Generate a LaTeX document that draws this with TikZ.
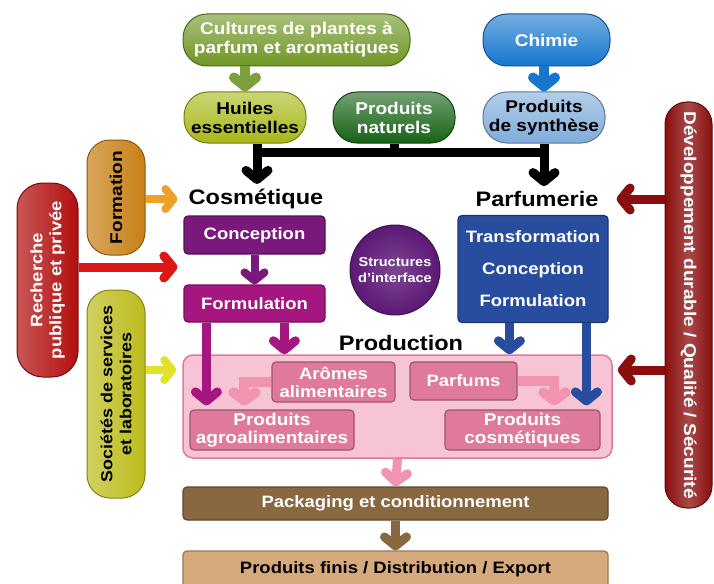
\documentclass[tikz,border=0pt]{standalone}
\usepackage{fontspec}
\setmainfont{Liberation Sans}[FakeStretch=1.12]
\usetikzlibrary{arrows.meta,calc}
\definecolor{cCult}{RGB}{112,150,36}
\definecolor{cChim}{RGB}{22,118,205}
\definecolor{cHuil}{RGB}{168,184,24}
\definecolor{cNat}{RGB}{22,98,22}
\definecolor{cSynth}{RGB}{128,172,218}
\definecolor{cForm}{RGB}{200,128,22}
\definecolor{cFormA}{RGB}{238,160,40}
\definecolor{cRech}{RGB}{178,14,14}
\definecolor{cRechA}{RGB}{222,22,22}
\definecolor{cSoc}{RGB}{188,188,28}
\definecolor{cSocA}{RGB}{226,226,44}
\definecolor{cConc}{RGB}{122,24,124}
\definecolor{cFormu}{RGB}{165,22,128}
\definecolor{cStruct}{RGB}{92,24,118}
\definecolor{cParf}{RGB}{40,76,158}
\definecolor{cReg}{RGB}{246,196,212}
\definecolor{cIn}{RGB}{224,122,156}
\definecolor{cInA}{RGB}{240,148,176}
\definecolor{cPack}{RGB}{136,104,64}
\definecolor{cFini}{RGB}{214,170,124}
\definecolor{cDev}{RGB}{138,14,14}
\newcommand\myfs[2]{\fontsize{#1}{#2}\selectfont\bfseries}
\begin{document}
\begin{tikzpicture}[x=1pt,y=-1pt,
  hpill/.style={draw=#1!70!black, line width=1pt, top color=#1!60!white, bottom color=#1,
    align=center, inner sep=0pt, rounded corners=24, font=\myfs{17}{19}},
  vpill/.style={draw=#1!70!black, line width=1pt, left color=#1!70!white, right color=#1,
    align=center, inner sep=0pt, rounded corners=23, rotate=90},
  rbox/.style={draw=#1!70!black, line width=1.2pt, fill=#1, align=center, inner sep=0pt,
    rounded corners=4, text=white},
  ttl/.style={inner sep=0pt, font=\myfs{21}{24}},
  ar/.style={line width=9pt, draw=#1, -{Straight Barb[round,length=9pt,width=22pt]}},
  sar/.style={line width=8pt, draw=#1, -{Straight Barb[round,length=8pt,width=20pt]}}
]
\useasboundingbox (0,0) rectangle (714,583);
\fill[white] (0,0) rectangle (714,583);

% top pills
\node[hpill=cCult, minimum width=227, minimum height=52, text=white] (cult) at (296.5,40)
  {Cultures de plantes à\\parfum et aromatiques};
\node[hpill=cChim, minimum width=127, minimum height=52, text=white] (chim) at (546.5,40)
  {Chimie};
\node[hpill=cHuil, minimum width=122, minimum height=51, text=black] (huil) at (245,117.5)
  {Huiles\\essentielles};
\node[hpill=cNat, minimum width=122, minimum height=51, text=white] (nat) at (394,117.5)
  {Produits\\naturels};
\node[hpill=cSynth, minimum width=122, minimum height=51, text=black] (synth) at (544,117.5)
  {Produits\\de synthèse};

% titles
\node[ttl] (cosm) at (256,199) {Cosmétique};
\node[ttl] (parf) at (537,199) {Parfumerie};

% side pills
\node[vpill=cForm, minimum width=115, minimum height=58, text=black, font=\myfs{17}{19}] (form) at (116,197.5)
  {Formation};
\node[vpill=cRech, minimum width=194, minimum height=61, text=white, rounded corners=26,
  font=\myfs{16.5}{19}] (rech) at (47.5,280)
  {Recherche\\publique et privée};
\node[vpill=cSoc, minimum width=208, minimum height=58, text=black, font=\myfs{16}{19}] (soc) at (116,394)
  {Sociétés de services\\et laboratoires};
\node[draw=cDev!70!black, line width=1pt, left color=cDev, right color=cDev, middle color=cDev!75!white,
  inner sep=0pt, rounded corners=22, rotate=-90, minimum width=406, minimum height=47,
  text=white, font=\myfs{17}{19}] (dev) at (688.5,305)
  {Développement durable / Qualité / Sécurité};

% cosmetique boxes
\node[rbox=cConc, minimum width=141, minimum height=38, font=\myfs{16.5}{19}] (conc) at (254.5,235)
  {Conception};
\node[rbox=cFormu, minimum width=141, minimum height=37, font=\myfs{16.5}{19}] (formu) at (254.5,303.5)
  {Formulation};

% structures
\node[circle, draw=cStruct!70!black, line width=1pt,
  inner color=cStruct!80!white, outer color=cStruct, minimum size=90, inner sep=0pt,
  align=center, text=white, font=\myfs{13}{15.5}] (struct) at (395,270)
  {Structures\\d'interface};

% parfumerie box
\node[rbox=cParf, minimum width=150, minimum height=107, font=\myfs{16.5}{32}] (pbox) at (533,269)
  {Transformation\\Conception\\Formulation};

% production region
\node[draw=cIn, fill=cReg, line width=1.5pt, rounded corners=10, minimum width=429,
  minimum height=103, inner sep=0pt] (region) at (397.5,406.5) {};
\node[ttl] (prod) at (401,343) {Production};

% inner pink boxes
\node[rbox=cIn, minimum width=123, minimum height=40, font=\myfs{16.5}{18}] (arom) at (333.5,382)
  {Arômes\\alimentaires};
\node[rbox=cIn, minimum width=107, minimum height=38, font=\myfs{16.5}{18}] (parfums) at (463.5,381)
  {Parfums};
\node[rbox=cIn, minimum width=164, minimum height=40, font=\myfs{17}{18}] (agro) at (272,430)
  {Produits\\agroalimentaires};
\node[rbox=cIn, minimum width=155, minimum height=40, font=\myfs{17}{18}] (cosmp) at (522.5,430)
  {Produits\\cosmétiques};
\draw[line width=10pt, draw=cInA, -{Straight Barb[round,length=8pt,width=22pt]}, shorten >=4pt]
  (arom.west) -| ($(agro.north west)+(55,0)$);
\draw[line width=10pt, draw=cInA, -{Straight Barb[round,length=8pt,width=22pt]}, shorten >=4pt]
  (parfums.east) -| ($(cosmp.north west)+(110,0)$);

% bottom boxes
\node[rbox=cPack, minimum width=425, minimum height=33, font=\myfs{16.5}{19}] (pack) at (395.5,503.5)
  {Packaging et conditionnement};
\node[rbox=cFini, minimum width=425, minimum height=38, text=black, font=\myfs{16.5}{19}] (fini) at (395.5,570)
  {\raisebox{4pt}{Produits finis / Distribution / Export}};

% named coordinates
\coordinate (busL) at (257,152);
\coordinate (busR) at (544,152);
\coordinate (yRech) at (0,267);
\coordinate (ySoc) at (0,370);
\coordinate (yDev) at (0,370);
\coordinate (fA) at ($(formu.south west)+(23,0)$);
\coordinate (fB) at ($(formu.south west)+(101,0)$);
\coordinate (pA) at ($(pbox.south west)+(52,0)$);
\coordinate (pB) at ($(pbox.south west)+(129,0)$);

% top arrows
\draw[ar=cCult!90!white, line width=10pt] (huil.north |- cult.south) -- (huil.north);
\draw[ar=cChim, line width=10pt] (synth.north |- chim.south) -- (synth.north);
% black bus
\draw[line width=9pt] (busL) -- (busR);
\draw[line width=9pt] (nat.south) -- (nat.south |- busR);
\draw[ar=black, shorten >=5pt] (busL |- huil.south) -- (busL |- cosm.north);
\draw[ar=black, shorten >=5pt] (synth.south) -- (synth.south |- parf.north);

% side arrows
\draw[sar=cFormA, shorten >=6pt] (form.south |- cosm) -- (conc.west |- cosm);
\draw[ar=cRechA, shorten >=6pt] (rech.south |- yRech) -- (conc.west |- yRech);
\draw[sar=cSocA, shorten >=6pt] (soc.south |- ySoc) -- (region.west |- ySoc);
\draw[ar=cDev, shorten >=8pt] (dev.south |- parf) -- (pbox.east |- parf);
\draw[ar=cDev, shorten >=5pt] (dev.south |- yDev) -- (region.east |- yDev);

% cosmetique arrows
\draw[sar=cConc] (conc.south) -- (formu.north);
\draw[ar=cFormu, shorten >=4pt] (fA) -- (fA |- agro.north);
\draw[ar=cFormu] (fB) -- (fB |- region.north);
% parfumerie arrows
\draw[ar=cParf] (pA) -- (pA |- region.north);
\draw[ar=cParf, shorten >=4pt] (pB) -- (pB |- cosmp.north);

% bottom arrows
\draw[ar=cInA] (region.south) -- (pack.north);
\draw[ar=cPack] (pack.south) -- (fini.north);
\end{tikzpicture}
\end{document}
